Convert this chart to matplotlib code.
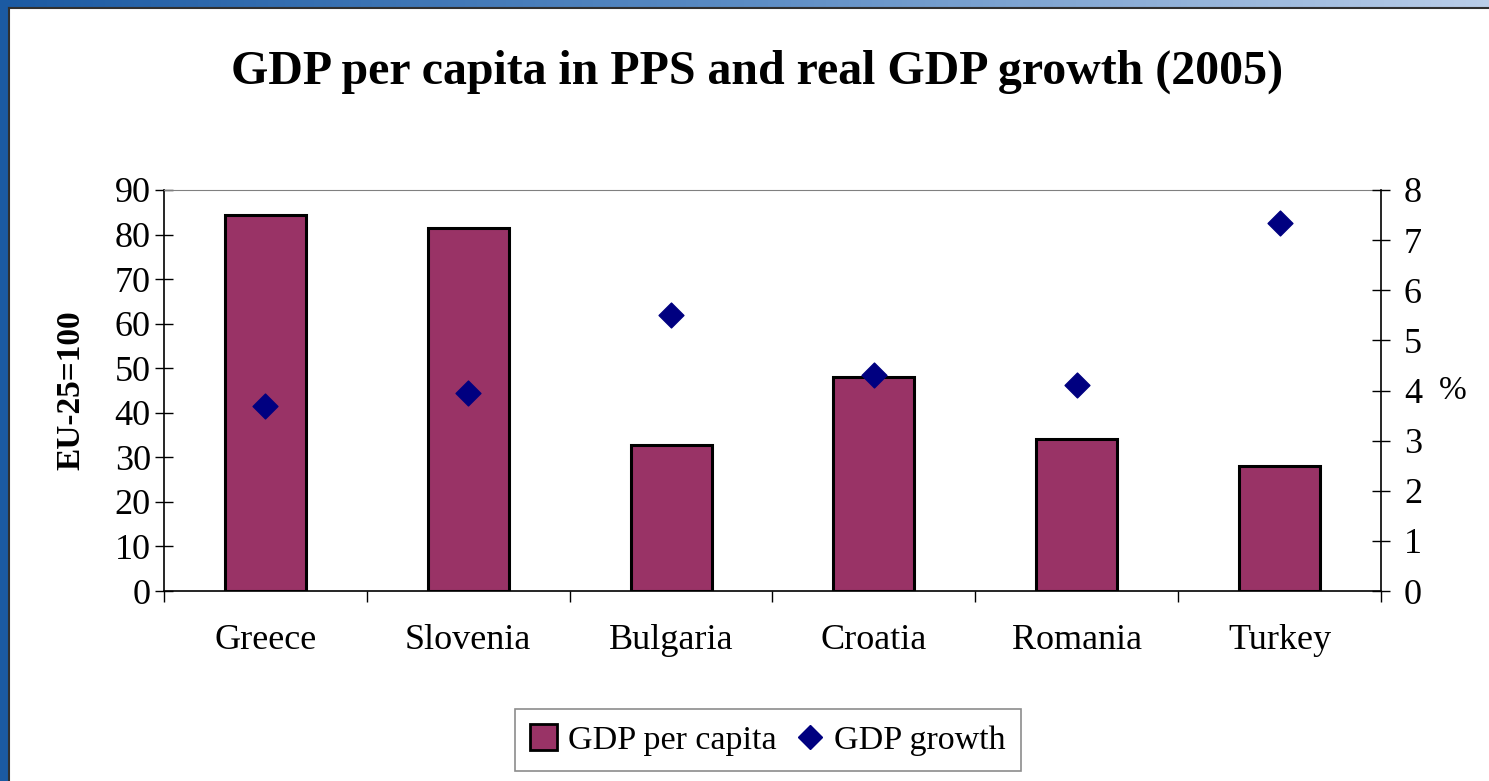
import matplotlib
matplotlib.use("Agg")
import matplotlib.pyplot as plt
import numpy as np
from matplotlib.patches import Rectangle, Patch
from matplotlib.lines import Line2D
from matplotlib.ticker import FixedLocator
from matplotlib.colors import LinearSegmentedColormap

plt.rcParams['font.family'] = ['Liberation Serif', 'DejaVu Serif']

countries = ["Greece", "Slovenia", "Bulgaria", "Croatia", "Romania", "Turkey"]
gdp_per_capita = [84.4, 81.5, 32.8, 48.0, 34.1, 28.1]
gdp_growth = [3.7, 3.95, 5.5, 4.3, 4.1, 7.35]
left_ticks = [0, 10, 20, 30, 40, 50, 60, 70, 80, 90]
right_ticks = [0, 1, 2, 3, 4, 5, 6, 7, 8]

W, H = 1489, 781
fig = plt.figure(figsize=(W / 100, H / 100), dpi=100)
fig.patch.set_facecolor("white")

# slide frame: gradient top bar and left bar
grad_ax = fig.add_axes([0, 1 - 7 / H, 1, 7 / H])
grad = np.linspace(0, 1, 256).reshape(1, -1)
cm = LinearSegmentedColormap.from_list("g", ["#1b5aa2", "#5b8cc4", "#b9cde8"])
grad_ax.imshow(grad, aspect="auto", cmap=cm, extent=[0, 1, 0, 1])
grad_ax.set_axis_off()
fig.patches.append(Rectangle((0, 0), 8 / W, 1, transform=fig.transFigure,
                             facecolor="#1b5aa2", edgecolor="none", zorder=5))
fig.add_artist(Line2D([8.5 / W, 8.5 / W], [0, 1 - 7.5 / H], color="#303030", lw=1.5, zorder=6))
fig.add_artist(Line2D([8.5 / W, 1], [1 - 7.5 / H, 1 - 7.5 / H], color="#303030", lw=1.5, zorder=6))

ax = fig.add_axes([164 / W, 1 - 591 / H, (1381 - 164) / W, (591 - 190) / H])
x = np.arange(len(countries))
ax.bar(x, gdp_per_capita, width=0.4, color="#993366", edgecolor="black", linewidth=2.2, zorder=2)
ax.set_xlim(-0.5, len(countries) - 0.5)
ax.set_ylim(0, 90)
ax.set_yticks(left_ticks)
ax.tick_params(axis="y", direction="inout", length=13, width=1, labelsize=26, pad=3)
ax.set_xticks(x)
ax.set_xticklabels(countries)
ax.tick_params(axis="x", which="major", length=0, labelsize=26, pad=24)
ax.xaxis.set_minor_locator(FixedLocator(np.arange(-0.5, len(countries), 1.0)))
ax.tick_params(axis="x", which="minor", direction="out", length=8, width=1)
ax.spines["top"].set_color("#808080")
ax.spines["right"].set_visible(False)
for s in ["left", "bottom"]:
    ax.spines[s].set_linewidth(1.2)
ax.set_ylabel("EU-25=100", fontsize=24, fontweight="bold", labelpad=20)

ax2 = ax.twinx()
ax2.scatter(x, gdp_growth, marker="D", s=160, color="#000080", zorder=3)
ax2.set_ylim(0, 8)
ax2.set_yticks(right_ticks)
ax2.tick_params(axis="y", direction="inout", length=13, width=1, labelsize=26, pad=10)
ax2.spines["top"].set_visible(False)
ax2.spines["left"].set_visible(False)
ax2.spines["bottom"].set_visible(False)
ax2.spines["right"].set_color("black")
ax2.spines["right"].set_linewidth(1.2)
ax2.set_ylabel("%", fontsize=24, rotation=0, labelpad=22, va="center")

fig.text(757 / W, 1 - 72 / H, "GDP per capita in PPS and real GDP growth (2005)",
         ha="center", va="center", fontsize=34.5, fontweight="bold")

handles = [Patch(facecolor="#993366", edgecolor="black", linewidth=2),
           Line2D([], [], marker="D", color="#000080", linestyle="none", markersize=12)]
leg = fig.legend(handles, ["GDP per capita", "GDP growth"], loc="center",
                 bbox_to_anchor=(768 / W, 1 - 740 / H), ncol=2, fontsize=24.5,
                 frameon=True, fancybox=False, edgecolor="#707070",
                 handlelength=0.8, handleheight=0.8, handletextpad=0.3, columnspacing=0.6,
                 borderpad=0.45)
leg.get_frame().set_linewidth(1.2)

fig.savefig("out.png", dpi=100)
